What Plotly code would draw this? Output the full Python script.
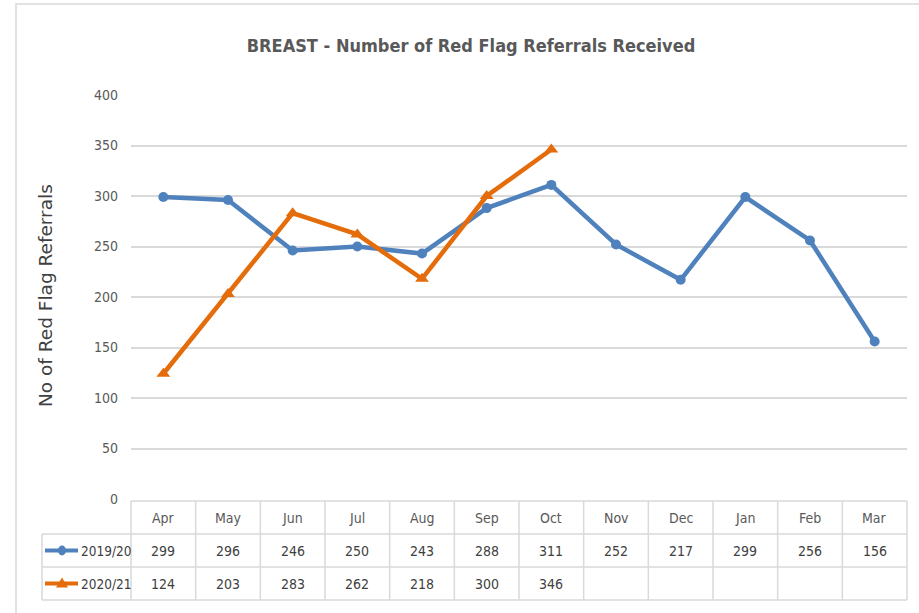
import plotly.graph_objects as go

months = ["Apr", "May", "Jun", "Jul", "Aug", "Sep", "Oct", "Nov", "Dec", "Jan", "Feb", "Mar"]
series_names = ["2019/20", "2020/21"]
values_2019 = [299, 296, 246, 250, 243, 288, 311, 252, 217, 299, 256, 156]
values_2020 = [124, 203, 283, 262, 218, 300, 346, None, None, None, None, None]
y_ticks = [0, 50, 100, 150, 200, 250, 300, 350, 400]

BLUE = "#4F81BD"
ORANGE = "#E46C0A"
GRID = "#D9D9D9"
TXT = "#595959"
NARROW = "DejaVu Sans Condensed, Liberation Sans Narrow, sans-serif"

W, H = 919, 613
L, R, T, B = 131, 12, 95, 114
PW = W - L - R
PH = H - T - B

def px(x):
    return (x - L) / PW

def py(y):
    return (H - B - y) / PH

fig = go.Figure()
fig.add_trace(go.Scatter(x=months, y=values_2019, name=series_names[0], mode="lines+markers",
                         line=dict(color=BLUE, width=4.5), marker=dict(symbol="circle", size=10, color=BLUE)))
fig.add_trace(go.Scatter(x=months, y=values_2020, name=series_names[1], mode="lines+markers",
                         line=dict(color=ORANGE, width=4.5), marker=dict(symbol="triangle-up", size=12, color=ORANGE)))

shapes = []
# outer frame
shapes.append(dict(type="rect", xref="paper", yref="paper", x0=px(16), x1=px(940), y0=py(4), y1=py(640),
                   line=dict(color=GRID, width=1.5), layer="below"))
# table horizontal lines
row_lines = [501, 534, 567, 600]
for i, yy in enumerate(row_lines):
    x0 = L if i == 0 else 42
    shapes.append(dict(type="line", xref="paper", yref="paper", x0=px(x0), x1=px(L + PW), y0=py(yy), y1=py(yy),
                       line=dict(color=GRID, width=1.5)))
# table vertical lines
shapes.append(dict(type="line", xref="paper", yref="paper", x0=px(42), x1=px(42), y0=py(534), y1=py(600),
                   line=dict(color=GRID, width=1.5)))
ncat = len(months)
for k in range(ncat + 1):
    xx = L + PW * k / ncat
    shapes.append(dict(type="line", xref="paper", yref="paper", x0=px(xx), x1=px(xx), y0=py(501), y1=py(600),
                       line=dict(color=GRID, width=1.5)))

annotations = []
row_y = [517.5, 550.5, 583.5]
for i, m in enumerate(months):
    annotations.append(dict(x=m, xref="x", y=py(row_y[0]), yref="paper", text=m, showarrow=False,
                            xanchor="center", yanchor="middle",
                            font=dict(family=NARROW, size=14, color=TXT)))
    for r, vals in enumerate([values_2019, values_2020]):
        if vals[i] is not None:
            annotations.append(dict(x=m, xref="x", y=py(row_y[r + 1]), yref="paper", text=str(vals[i]),
                                    showarrow=False, xanchor="center", yanchor="middle",
                                    font=dict(family=NARROW, size=14, color="#404040")))
# legend keys in table
for r, (name, col) in enumerate(zip(series_names, [BLUE, ORANGE])):
    yy = row_y[r + 1]
    shapes.append(dict(type="line", xref="paper", yref="paper", x0=px(45), x1=px(78), y0=py(yy), y1=py(yy),
                       line=dict(color=col, width=4)))
    if r == 0:
        shapes.append(dict(type="circle", xref="paper", yref="paper", x0=px(58), x1=px(66),
                           y0=py(yy + 5), y1=py(yy - 5), fillcolor=col, line=dict(color=col, width=0)))
    else:
        path = f"M {px(56)},{py(yy + 4)} L {px(68)},{py(yy + 4)} L {px(62)},{py(yy - 6)} Z"
        shapes.append(dict(type="path", xref="paper", yref="paper", path=path, fillcolor=col,
                           line=dict(color=col, width=0)))
    annotations.append(dict(x=px(79), xref="paper", y=py(yy), yref="paper", text=name, showarrow=False,
                            xanchor="left", yanchor="middle",
                            font=dict(family=NARROW, size=13.5, color="#404040")))

# y-axis title
annotations.append(dict(x=px(45), xref="paper", y=py(296), yref="paper", text="No of Red Flag Referrals",
                        textangle=-90, showarrow=False, xanchor="center", yanchor="middle",
                        font=dict(family="DejaVu Sans", size=18.5, color="#404040")))

fig.update_layout(
    width=W, height=H,
    margin=dict(l=L, r=R, t=T, b=B),
    paper_bgcolor="white", plot_bgcolor="white",
    showlegend=False,
    title=dict(text="<b>BREAST - Number of Red Flag Referrals Received</b>", x=471 / W, xanchor="center",
               y=1 - 46 / H, yanchor="middle", yref="container",
               font=dict(family=NARROW, size=18, color=TXT)),
    xaxis=dict(type="category", range=[-0.5, ncat - 0.5], showticklabels=False, showgrid=False,
               zeroline=False, showline=False),
    yaxis=dict(range=[0, 400], tickvals=y_ticks, showgrid=True, gridcolor=GRID, gridwidth=1.5,
               zeroline=False, showline=False, ticklabelstandoff=12,
               tickfont=dict(family=NARROW, size=14, color=TXT)),
    shapes=shapes,
    annotations=annotations,
)

fig.write_html("out.html", config={"displayModeBar": False},
               post_script="document.body.style.margin='0';document.body.style.padding='0';")
